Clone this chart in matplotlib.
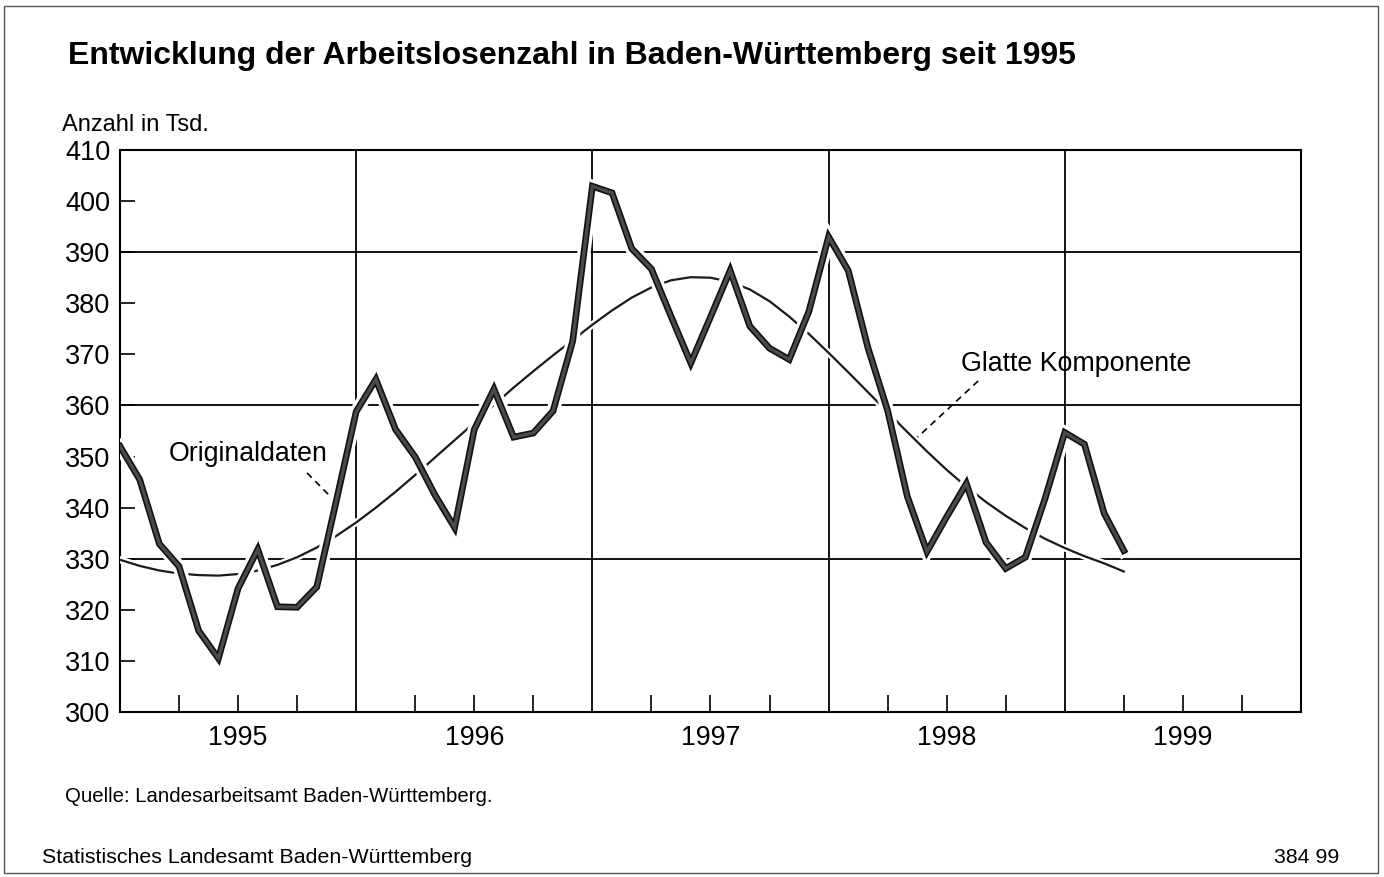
import numpy as np
import matplotlib.pyplot as plt
import matplotlib.patheffects as pe
from matplotlib.patches import Rectangle

# Arbeitslose in Tsd., monatlich Jan 1995 - Apr 1999
original = [352.0, 345.5, 332.9, 328.5, 315.9, 310.5, 324.2, 331.8, 320.6, 320.5,
            324.5, 341.5, 358.8, 365.1, 355.3, 349.9, 342.5, 336.1, 355.3, 363.2,
            353.8, 354.6, 358.9, 372.6, 402.9, 401.6, 390.7, 386.7, 377.4, 368.3,
            377.3, 386.4, 375.5, 371.2, 369.0, 378.4, 393.0, 386.4, 371.3, 359.0,
            342.2, 331.4, 338.2, 344.7, 333.2, 328.1, 330.3, 341.8, 354.7, 352.4,
            338.9, 331.6]
# glatte Komponente
smooth = [329.8, 328.6, 327.7, 327.1, 326.8, 326.7, 327.0, 327.7, 328.8, 330.3,
          332.2, 334.5, 337.1, 340.0, 343.1, 346.4, 349.8, 353.2, 356.6, 360.1,
          363.5, 366.7, 369.8, 372.8, 375.8, 378.6, 381.1, 383.1, 384.5, 385.1,
          385.0, 384.2, 382.7, 380.4, 377.4, 374.0, 370.3, 366.5, 362.6, 358.7,
          354.8, 351.0, 347.4, 344.1, 341.1, 338.4, 336.0, 333.9, 332.1, 330.5,
          329.1, 327.5]
years = ['1995', '1996', '1997', '1998', '1999']
months = np.arange(len(original))

plt.rcParams['font.family'] = ['Liberation Sans', 'DejaVu Sans']

fig = plt.figure(figsize=(13.84, 8.77), dpi=100)
ax = fig.add_axes([0.0867, 0.1881, 0.8533, 0.6409])

# grid: every 30 Tsd. and at year boundaries
for yv in [330, 360, 390]:
    ax.axhline(yv, color='black', lw=1.3, zorder=1)
for xv in [12, 24, 36, 48]:
    ax.axvline(xv, color='black', lw=1.3, zorder=1)

# smooth component, thin line with white halo
ax.plot(months, smooth, color='#1a1a1a', lw=1.6, zorder=3,
        path_effects=[pe.Stroke(linewidth=5, foreground='white'), pe.Normal()])

# original data, thick outlined line
ax.plot(months, original, color='#4a4a4a', lw=2.4, zorder=4, solid_joinstyle='miter',
        path_effects=[pe.Stroke(linewidth=9.5, foreground='white'),
                      pe.Stroke(linewidth=4.8, foreground='#111111'),
                      pe.Normal()])

# labels with dashed leader lines
ax.text(6.5, 350.5, 'Originaldaten', fontsize=19.3, ha='center', va='center')
ax.plot([9.5, 11.0], [346.8, 341.0], color='black', lw=1.2, ls=(0, (4, 3)), zorder=2)
ax.text(48.6, 368.2, 'Glatte Komponente', fontsize=19.3, ha='center', va='center')
ax.plot([43.6, 40.3], [364.8, 353.0], color='black', lw=1.2, ls=(0, (4, 3)), zorder=2)

ax.set_xlim(0, 60)
ax.set_ylim(300, 410)

ax.set_yticks(np.arange(300, 411, 10))
ax.tick_params(axis='y', direction='in', length=11, width=1.2, labelsize=19.5, pad=7)

# quarter ticks, year labels in the middle of each year
ax.set_xticks([6, 18, 30, 42, 54])
ax.set_xticklabels(years)
ax.set_xticks([3, 9, 15, 21, 27, 33, 39, 45, 51, 57], minor=True)
ax.tick_params(axis='x', which='both', direction='in', length=12, width=1.2,
               labelsize=19.3, pad=9)

for s in ax.spines.values():
    s.set_linewidth(1.5)

# texts
fig.text(0.049, 0.936, 'Entwicklung der Arbeitslosenzahl in Baden-Württemberg seit 1995',
         fontsize=23, fontweight='bold', ha='left', va='center')
fig.text(0.0445, 0.857, 'Anzahl in Tsd.', fontsize=17, ha='left', va='center')
fig.text(0.047, 0.0915, 'Quelle: Landesarbeitsamt Baden-Württemberg.', fontsize=14.7,
         ha='left', va='center')
fig.text(0.030, 0.0228, 'Statistisches Landesamt Baden-Württemberg', fontsize=15.4,
         ha='left', va='center')
fig.text(0.968, 0.0228, '384 99', fontsize=15.4, ha='right', va='center')

# frame round the whole figure
fig.patches.append(Rectangle((0.003, 0.005), 0.993, 0.988, transform=fig.transFigure,
                             fill=False, edgecolor='#555555', lw=1.0))

fig.savefig('out.png', dpi=100)
